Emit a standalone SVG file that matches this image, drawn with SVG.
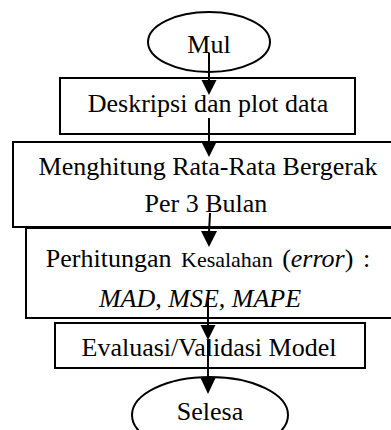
<svg xmlns="http://www.w3.org/2000/svg" width="391" height="430" viewBox="0 0 391 430">
<defs>
<style>
.shape{fill:#fff;stroke:#000;stroke-width:2}
.t{font-family:"Liberation Serif","Times New Roman",serif;font-size:26px;fill:#000;text-anchor:middle}
.s{font-size:22px}
.i{font-style:italic}
.c{stroke:#000;stroke-width:2;fill:none}
.h{fill:#000}
</style>
</defs>
<g id="start">
<ellipse class="shape" cx="209" cy="42" rx="61" ry="30"/>
<text class="t" x="209" y="53">Mul</text>
</g>
<g id="deskripsi">
<rect class="shape" x="60" y="78" width="295" height="56"/>
<text class="t" x="208" y="112">Deskripsi dan plot data</text>
</g>
<g id="rata">
<rect class="shape" x="13" y="142" width="390" height="85"/>
<text class="t" x="208" y="175">Menghitung Rata-Rata Bergerak</text>
<text class="t" x="206" y="212">Per 3 Bulan</text>
</g>
<g id="error">
<rect class="shape" x="26" y="228" width="380" height="90"/>
<text class="t" x="208" y="267" word-spacing="3">Perhitungan <tspan class="s">Kesalahan</tspan> (<tspan class="i">error</tspan>) :</text>
<text class="t i" x="200" y="307" font-size="27">MAD, MSE, MAPE</text>
</g>
<g id="evaluasi">
<rect class="shape" x="55" y="323" width="310" height="45"/>
<text class="t" x="209" y="356">Evaluasi/Validasi Model</text>
</g>
<g id="end">
<ellipse class="shape" cx="210" cy="415" rx="78" ry="38"/>
<text class="t" x="210" y="420">Selesa</text>
</g>
<g id="connectors">
<line class="c" x1="209" y1="53" x2="209" y2="82"/>
<path class="h" d="M201.5,80 L216.5,80 L209,95 Z"/>
<line class="c" x1="209" y1="118" x2="209" y2="144"/>
<path class="h" d="M201.5,142 L216.5,142 L209,157 Z"/>
<line class="c" x1="210" y1="213" x2="209" y2="233"/>
<path class="h" d="M201,231 L217,231 L209,247 Z"/>
<line class="c" x1="208" y1="297" x2="208" y2="327"/>
<path class="h" d="M200.5,325 L215.5,325 L208,340 Z"/>
<line class="c" x1="208" y1="340" x2="208" y2="380"/>
<path class="h" d="M200.5,378 L215.5,378 L208,394 Z"/>
</g>
</svg>
